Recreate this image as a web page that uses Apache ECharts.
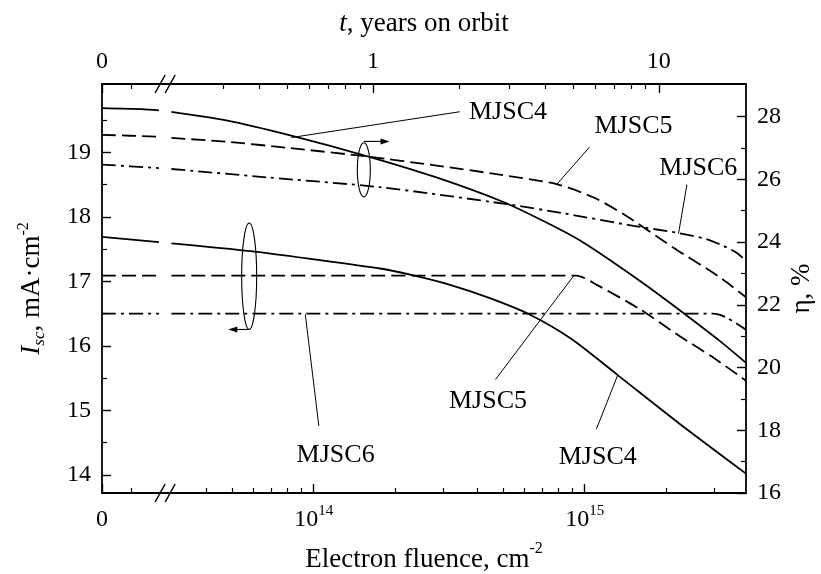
<!DOCTYPE html>
<html><head><meta charset="utf-8">
<script src="https://cdn.jsdelivr.net/npm/echarts@6/dist/echarts.min.js"></script>
<style>html,body{margin:0;padding:0;background:#fff}#c{width:821px;height:574px}</style>
</head><body><div id="c"></div>
<script>
// ---- axis extents (x in log10 of electron fluence, cm^-2; left of the break = zero-fluence segment)
const X_MIN = 13.219, X_MAX = 15.595, X_BREAK = 13.452;
const T_MIN = -0.948, T_MAX = 1.305;          // top axis: log10(years on orbit)
const ISC_MIN = 13.72, ISC_MAX = 20.06;        // left axis
const ETA_MIN = 16, ETA_MAX = 29.04;           // right axis

// ---- tick values / labels
const bottomMajor = [X_MIN, 14, 15];
const bottomLabels = ['0', '10^14', '10^15'];
const bottomMinor = [13.327, 13.602, 13.699, 13.778, 13.845, 13.903, 13.954,
  14.301, 14.477, 14.602, 14.699, 14.778, 14.845, 14.903, 14.954, 15.301, 15.477];
const topMajor = [T_MIN, 0, 1];
const topLabels = ['0', '1', '10'];
const topMinor = [-0.846, -0.523, -0.398, -0.301, -0.222, -0.155, -0.097, -0.046,
  0.301, 0.477, 0.602, 0.699, 0.778, 0.845, 0.903, 0.954];
const leftMajor = [14, 15, 16, 17, 18, 19];
const leftMinor = [14.5, 15.5, 16.5, 17.5, 18.5, 19.5];
const rightMajor = [16, 18, 20, 22, 24, 26, 28];
const rightMinor = [17, 19, 21, 23, 25, 27];

// ---- efficiency (right axis, %)
const eff4X = [13.219, 13.366, 13.429, 13.475, 13.677, 13.910, 14.205, 14.453, 14.702, 14.857, 14.983, 15.106, 15.230, 15.370, 15.498, 15.595];
const eff4  = [28.27, 28.24, 28.20, 28.15, 27.88, 27.41, 26.72, 26.06, 25.27, 24.63, 24.05, 23.35, 22.60, 21.70, 20.85, 20.15];
const eff5X = [13.219, 13.429, 13.475, 13.677, 13.910, 14.205, 14.453, 14.686, 14.896, 15.031, 15.141, 15.326, 15.498, 15.595];
const eff5  = [27.42, 27.36, 27.32, 27.20, 27.00, 26.72, 26.44, 26.15, 25.85, 25.43, 24.90, 23.83, 22.88, 22.24];
const eff6X = [13.219, 13.429, 13.475, 13.832, 14.245, 14.713, 14.919, 15.179, 15.351, 15.447, 15.509, 15.556, 15.595];
const eff6  = [26.47, 26.36, 26.33, 26.06, 25.75, 25.21, 24.92, 24.52, 24.28, 24.10, 23.89, 23.68, 23.41];
// ---- short-circuit current (left axis, mA/cm2)
const isc4X = [13.219, 13.429, 13.475, 13.766, 13.988, 14.245, 14.360, 14.500, 14.650, 14.800, 14.950, 15.124, 15.351, 15.595];
const isc4  = [17.69, 17.61, 17.59, 17.47, 17.35, 17.20, 17.10, 16.95, 16.74, 16.48, 16.11, 15.54, 14.79, 14.02];
const isc5X = [13.219, 13.429, 13.475, 14.970, 15.043, 15.203, 15.351, 15.474, 15.595];
const isc5  = [17.09, 17.09, 17.09, 17.09, 16.95, 16.57, 16.15, 15.82, 15.46];
const isc6X = [13.219, 13.429, 13.475, 15.474, 15.523, 15.595];
const isc6  = [16.50, 16.50, 16.50, 16.50, 16.44, 16.25];

// ---- annotations (x: log10 fluence, y: left-axis units)
const noteTexts = ['MJSC4', 'MJSC5', 'MJSC6', 'MJSC5', 'MJSC4', 'MJSC6'];
const notePos   = [[14.717, 19.62], [15.180, 19.41], [15.419, 18.75], [14.643, 15.15], [15.048, 14.27], [14.081, 14.31]];
const leadFrom  = [[14.539, 19.63], [15.017, 19.08], [15.377, 18.50], [14.671, 15.48], [15.043, 14.71], [14.019, 14.76]];
const leadTo    = [[13.918, 19.23], [14.896, 18.50], [15.346, 17.74], [14.958, 17.08], [15.121, 15.54], [13.969, 16.49]];

const FONT = 'Liberation Serif';
const K = '#000';

function seriesData(xs, ys) {
  const d = [];
  for (let i = 0; i < xs.length; i++) {
    if (i > 0 && xs[i - 1] < X_BREAK && xs[i] > X_BREAK) d.push([X_BREAK, '-']);
    d.push([xs[i], ys[i]]);
  }
  return d;
}
function line(name, xs, ys, yIdx, type) {
  return { name, type: 'line', xAxisIndex: 0, yAxisIndex: yIdx, data: seriesData(xs, ys),
    symbol: 'none', smooth: 0.25, connectNulls: false, silent: true,
    lineStyle: { color: K, width: 1.8, type } };
}
const DASH = [14, 6], DASHDOT = [14, 5, 3, 5];
const supRich = {
  b: { fontFamily: FONT, fontSize: 24, color: K, lineHeight: 28, verticalAlign: 'bottom' },
  s: { fontFamily: FONT, fontSize: 15, color: K, lineHeight: 15, verticalAlign: 'top' }
};
function supFmt(t) { const p = t.split('^'); return p.length > 1 ? '{b|' + p[0] + '}{s|' + p[1] + '}' : '{b|' + t + '}'; }
function pick(vals, labels) { return v => { let k = 0; vals.forEach((x, i) => { if (Math.abs(x - v) < Math.abs(vals[k] - v)) k = i; }); return supFmt(labels[k]); }; }

const axLine = { show: true, onZero: false, lineStyle: { color: K, width: 1.8 } };
const titleRich = {
  i: { fontFamily: FONT, fontSize: 27, fontStyle: 'italic', color: K, lineHeight: 32, verticalAlign: 'bottom' },
  n: { fontFamily: FONT, fontSize: 27, color: K, lineHeight: 32, verticalAlign: 'bottom' },
  s: { fontFamily: FONT, fontSize: 16, color: K, lineHeight: 16, verticalAlign: 'top' } };
function mainX(pos, min, max, major, labels, name, gap, margin) {
  return { type: 'value', position: pos, min, max, axisLine: axLine,
    axisTick: { show: true, inside: true, length: 9, lineStyle: { color: K, width: 1.4 }, customValues: major },
    axisLabel: { show: true, customValues: major, formatter: pick(major, labels), margin, rich: supRich, showMinLabel: true, showMaxLabel: true },
    splitLine: { show: false }, name, nameLocation: 'middle', nameGap: gap,
    nameTextStyle: { fontFamily: FONT, fontSize: 27, color: K, rich: titleRich } };
}
function minorX(pos, min, max, vals) {
  return { type: 'value', position: pos, min, max, axisLine: { show: false, onZero: false },
    axisTick: { show: true, inside: true, length: 5, lineStyle: { color: K, width: 1.2 }, customValues: vals },
    axisLabel: { show: false }, splitLine: { show: false } };
}
function mainY(pos, min, max, major, name, gap, rich, moveOverlap) {
  return { type: 'value', position: pos, min, max, axisLine: axLine,
    axisTick: { show: true, inside: true, length: 9, lineStyle: { color: K, width: 1.4 }, customValues: major },
    axisLabel: { show: true, customValues: major, margin: 11, fontFamily: FONT, fontSize: 24, color: K, showMinLabel: true },
    splitLine: { show: false }, name, nameLocation: 'middle', nameGap: gap, nameRotate: 90,
    nameMoveOverlap: moveOverlap,
    nameTextStyle: { fontFamily: FONT, fontSize: 27, color: K, rich } };
}
function minorY(pos, min, max, vals) {
  return { type: 'value', position: pos, min, max, axisLine: { show: false, onZero: false },
    axisTick: { show: true, inside: true, length: 5, lineStyle: { color: K, width: 1.2 }, customValues: vals },
    axisLabel: { show: false }, splitLine: { show: false } };
}

const chart = echarts.init(document.getElementById('c'));
const option = {
  animation: false,
  backgroundColor: '#fff',
  grid: { left: 102, right: 75, top: 84, bottom: 81, containLabel: false, outerBoundsMode: 'none' },
  xAxis: [
    mainX('bottom', X_MIN, X_MAX, bottomMajor, bottomLabels, '{n|Electron fluence, cm}{s|-2}', 48, 11),
    mainX('top', T_MIN, T_MAX, topMajor, topLabels, '{i|t}{n|, years on orbit}', 47, 10),
    minorX('bottom', X_MIN, X_MAX, bottomMinor),
    minorX('top', T_MIN, T_MAX, topMinor)
  ],
  yAxis: [
    mainY('left', ISC_MIN, ISC_MAX, leftMajor, '{i|I}{sub|sc}{n|, mA·cm}{s|-2}', 54, {
      i: { fontFamily: FONT, fontSize: 27, fontStyle: 'italic', color: K, lineHeight: 32, verticalAlign: 'middle' },
      sub: { fontFamily: FONT, fontSize: 17, fontStyle: 'italic', color: K, lineHeight: 17, verticalAlign: 'bottom' },
      n: { fontFamily: FONT, fontSize: 27, color: K, lineHeight: 32, verticalAlign: 'middle' },
      s: { fontFamily: FONT, fontSize: 16, color: K, lineHeight: 16, verticalAlign: 'top' } }, true),
    mainY('right', ETA_MIN, ETA_MAX, rightMajor, 'η, %', 42, {}, false),
    minorY('left', ISC_MIN, ISC_MAX, leftMinor),
    minorY('right', ETA_MIN, ETA_MAX, rightMinor)
  ],
  series: [
    line('MJSC4 η', eff4X, eff4, 1, 'solid'),
    line('MJSC5 η', eff5X, eff5, 1, DASH),
    line('MJSC6 η', eff6X, eff6, 1, DASHDOT),
    line('MJSC4 Isc', isc4X, isc4, 0, 'solid'),
    line('MJSC5 Isc', isc5X, isc5, 0, DASH),
    line('MJSC6 Isc', isc6X, isc6, 0, DASHDOT)
  ]
};
chart.setOption(option);

// ---- annotations placed through the axes
function P(p) { return chart.convertToPixel({ xAxisIndex: 0, yAxisIndex: 0 }, p); }
const g = [];
const stroke = { stroke: K, lineWidth: 1, fill: 'none' };
noteTexts.forEach((t, i) => {
  const a = P(leadFrom[i]), b = P(leadTo[i]), c = P(notePos[i]);
  g.push({ type: 'line', shape: { x1: a[0], y1: a[1], x2: b[0], y2: b[1] }, style: stroke, silent: true });
  g.push({ type: 'text', x: c[0], y: c[1], style: { text: t, fontFamily: FONT, fontSize: 26, fill: K, align: 'center', verticalAlign: 'middle' }, silent: true });
});
function ellipse(center, ry, rx) {
  const c = P(center), t = P([center[0], center[1] + ry]);
  g.push({ type: 'ellipse', shape: { cx: c[0], cy: c[1], rx, ry: c[1] - t[1] }, style: { stroke: K, lineWidth: 1.1, fill: 'none' }, silent: true });
}
function arrow(from, to) {
  const a = P(from), b = P(to);
  const dir = Math.sign(b[0] - a[0]);
  g.push({ type: 'line', shape: { x1: a[0], y1: a[1], x2: b[0] - dir * 6, y2: b[1] }, style: { stroke: K, lineWidth: 1.1 }, silent: true });
  g.push({ type: 'polygon', shape: { points: [[b[0], b[1]], [b[0] - dir * 9, b[1] - 3], [b[0] - dir * 9, b[1] + 3]] }, style: { fill: K }, silent: true });
}
ellipse([14.185, 18.73], 0.42, 6.5);
arrow([14.185, 19.17], [14.280, 19.17]);
ellipse([13.762, 17.08], 0.825, 7.5);
arrow([13.762, 16.255], [13.685, 16.255]);
// axis break marks
const bx = chart.convertToPixel({ xAxisIndex: 0 }, X_BREAK);
const yTop = chart.convertToPixel({ yAxisIndex: 0 }, ISC_MAX), yBot = chart.convertToPixel({ yAxisIndex: 0 }, ISC_MIN);
[yTop, yBot].forEach(y => {
  [-5, 5].forEach(dx => {
    g.push({ type: 'line', shape: { x1: bx + dx - 5, y1: y + 9, x2: bx + dx + 5, y2: y - 9 }, style: { stroke: K, lineWidth: 1.5 }, silent: true });
  });
});
chart.setOption({ graphic: g });
</script></body></html>
